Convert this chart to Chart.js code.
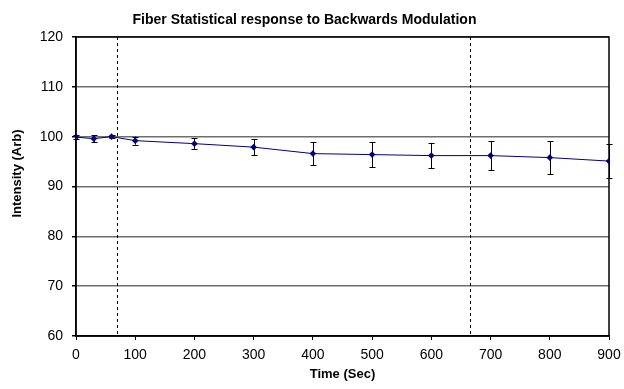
<!DOCTYPE html>
<html>
<head>
<meta charset="utf-8">
<script src="https://cdn.jsdelivr.net/npm/chart.js@4"></script>
<style>
html,body{margin:0;padding:0;background:#fff;}
#wrap{width:624px;height:389px;}
</style>
</head>
<body>
<div id="wrap"><canvas id="c" width="624" height="389"></canvas></div>
<script>
const times = [0, 30, 60, 100, 200, 300, 400, 500, 600, 700, 800, 900];
const intensity = [99.9, 99.6, 100.0, 99.2, 98.6, 97.9, 96.6, 96.4, 96.2, 96.2, 95.8, 95.1];
const errors = [0.4, 0.7, 0.3, 0.8, 1.05, 1.6, 2.3, 2.5, 2.55, 2.9, 3.3, 3.4];
const markerTimes = [70, 665];
const yTicks = [60, 70, 80, 90, 100, 110, 120];
const xTicks = [0, 100, 200, 300, 400, 500, 600, 700, 800, 900];

const FONT = "'Liberation Sans', Arial, sans-serif";

const extrasPlugin = {
  id: 'extras',
  beforeDatasetsDraw(chart) {
    const ctx = chart.ctx, a = chart.chartArea;
    const xs = chart.scales.x;
    ctx.save();
    ctx.strokeStyle = '#000';
    ctx.lineWidth = 1;
    ctx.setLineDash([3, 3]);
    markerTimes.forEach(t => {
      const x = Math.round(xs.getPixelForValue(t)) + 0.5;
      ctx.beginPath();
      ctx.moveTo(x, a.top);
      ctx.lineTo(x, a.bottom);
      ctx.stroke();
    });
    ctx.setLineDash([]);
    // error bars
    const ys = chart.scales.y;
    times.forEach((t, i) => {
      const x = Math.round(xs.getPixelForValue(t)) + 0.5;
      const y1 = ys.getPixelForValue(intensity[i] + errors[i]);
      const y2 = ys.getPixelForValue(intensity[i] - errors[i]);
      ctx.beginPath();
      ctx.moveTo(x, y1); ctx.lineTo(x, y2);
      ctx.moveTo(x - 3, Math.round(y1) + 0.5); ctx.lineTo(x + 3, Math.round(y1) + 0.5);
      ctx.moveTo(x - 3, Math.round(y2) + 0.5); ctx.lineTo(x + 3, Math.round(y2) + 0.5);
      ctx.stroke();
    });
    // plot border
    ctx.lineWidth = 1.5;
    ctx.strokeRect(Math.round(a.left), Math.round(a.top), Math.round(a.right - a.left), Math.round(a.bottom - a.top));
    // y-axis title
    ctx.fillStyle = '#000';
    ctx.font = 'bold 13px ' + FONT;
    ctx.textAlign = 'center';
    ctx.textBaseline = 'middle';
    ctx.translate(17, 173.5);
    ctx.rotate(-Math.PI / 2);
    ctx.fillText('Intensity (Arb)', 0, 0);
    ctx.restore();
  }
};

new Chart(document.getElementById('c'), {
  type: 'line',
  data: {
    datasets: [{
      data: times.map((t, i) => ({x: t, y: intensity[i]})),
      borderColor: '#000080',
      backgroundColor: '#000080',
      borderWidth: 1,
      pointStyle: 'rectRot',
      pointRadius: 3.3,
      pointBorderWidth: 0,
      tension: 0
    }]
  },
  options: {
    responsive: false,
    animation: false,
    events: [],
    layout: {padding: {left: 0, right: 15, top: 0, bottom: 0}},
    plugins: {
      legend: {display: false},
      tooltip: {enabled: false},
      title: {
        display: true,
        text: 'Fiber Statistical response to Backwards Modulation',
        color: '#000',
        font: {family: FONT, size: 14, weight: 'bold'},
        padding: {top: 11.6, bottom: 8.6}
      }
    },
    scales: {
      x: {
        type: 'linear',
        min: 0, max: 900,
        afterBuildTicks: s => { s.ticks = xTicks.map(v => ({value: v})); },
        afterFit: s => { s.height = 53; s.paddingRight = 0; s.paddingLeft = 0; },
        ticks: {color: '#000', font: {family: FONT, size: 14}, padding: 7, maxRotation: 0},
        grid: {drawOnChartArea: false, drawTicks: true, tickLength: 4, color: '#000'},
        border: {color: '#000', width: 1.5},
        title: {display: true, text: 'Time (Sec)', color: '#000', font: {family: FONT, size: 13, weight: 'bold'}, padding: {top: 0, bottom: 7}}
      },
      y: {
        min: 60, max: 120,
        afterBuildTicks: s => { s.ticks = yTicks.map(v => ({value: v})); },
        afterFit: s => { s.width = 76; s.paddingTop = 0; s.paddingBottom = 0; },
        ticks: {color: '#000', font: {family: FONT, size: 14}, padding: 9},
        grid: {color: '#6e6e6e', lineWidth: 1.5, drawTicks: true, tickLength: 4, tickColor: '#000'},
        border: {color: '#000', width: 1.5}
      }
    }
  },
  plugins: [extrasPlugin]
});
</script>
</body>
</html>
